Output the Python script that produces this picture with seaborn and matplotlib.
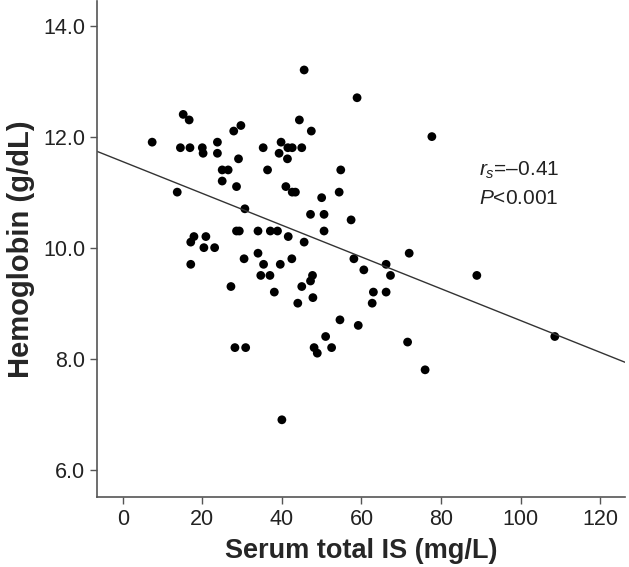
import numpy as np
import pandas as pd
import matplotlib
matplotlib.use("Agg")
import matplotlib.pyplot as plt
import seaborn as sns

# values
serum_is = [7.4, 13.7, 15.2, 16.7, 14.5, 16.9, 20.0, 20.2, 23.8, 23.8,
            25.0, 26.5, 25.0, 27.9, 29.7, 29.1, 28.6, 35.3, 39.8, 39.3,
            41.5, 42.6, 45.0, 41.4, 36.4, 41.0, 42.6, 43.4, 44.4, 47.4,
            45.6, 58.9, 54.8, 54.4, 50.0, 47.2, 50.6, 57.4, 50.6, 30.7,
            28.6, 29.3, 34.0, 37.1, 38.9, 41.6, 45.6, 34.0, 30.5, 35.4,
            39.6, 42.5, 34.7, 37.0, 27.2, 38.1, 47.7, 47.2, 45.0, 47.8,
            44.0, 17.9, 17.1, 20.9, 20.4, 23.1, 17.1, 28.2, 30.9, 48.1,
            48.9, 51.0, 52.5, 54.6, 59.2, 40.0, 58.1, 60.6, 66.2, 67.3,
            63.0, 66.2, 62.7, 72.0, 77.7, 89.0, 108.6, 71.6, 76.0]
hemoglobin = [11.9, 11.0, 12.4, 12.3, 11.8, 11.8, 11.8, 11.7, 11.9, 11.7,
              11.4, 11.4, 11.2, 12.1, 12.2, 11.6, 11.1, 11.8, 11.9, 11.7,
              11.8, 11.8, 11.8, 11.6, 11.4, 11.1, 11.0, 11.0, 12.3, 12.1,
              13.2, 12.7, 11.4, 11.0, 10.9, 10.6, 10.6, 10.5, 10.3, 10.7,
              10.3, 10.3, 10.3, 10.3, 10.3, 10.2, 10.1, 9.9, 9.8, 9.7,
              9.7, 9.8, 9.5, 9.5, 9.3, 9.2, 9.5, 9.4, 9.3, 9.1,
              9.0, 10.2, 10.1, 10.2, 10.0, 10.0, 9.7, 8.2, 8.2, 8.2,
              8.1, 8.4, 8.2, 8.7, 8.6, 6.9, 9.8, 9.6, 9.7, 9.5,
              9.2, 9.2, 9.0, 9.9, 12.0, 9.5, 8.4, 8.3, 7.8]

x_ticks = [0, 20, 40, 60, 80, 100, 120]
y_ticks = [6.0, 8.0, 10.0, 12.0, 14.0]

df = pd.DataFrame({"SerumIS": serum_is, "Hb": hemoglobin})

sns.set_style("ticks")
plt.rcParams["font.family"] = ["Liberation Sans", "DejaVu Sans"]
plt.rcParams["mathtext.fontset"] = "custom"
plt.rcParams["mathtext.rm"] = "Liberation Sans"
plt.rcParams["mathtext.it"] = "Liberation Sans:italic"

fig = plt.figure(figsize=(6.29, 5.67), dpi=100)
ax = fig.add_axes([0.154, 0.1235, 0.840, 0.8755])
ax.set_xlim(-6.5, 126.3)
ax.set_ylim(5.51, 14.45)

sns.regplot(x="SerumIS", y="Hb", data=df, ax=ax, ci=None, truncate=False,
            scatter_kws={"s": 40, "color": "black", "edgecolor": "none", "alpha": 1},
            line_kws={"color": "#333333", "linewidth": 1.0})

ax.set_xlim(-6.5, 126.3)
ax.set_ylim(5.51, 14.45)
ax.set_xticks(x_ticks)
ax.set_yticks(y_ticks)
ax.set_yticklabels([f"{v:.1f}" for v in y_ticks])
ax.tick_params(labelsize=15.5, colors="#222222", length=5, width=1, direction="out")
ax.tick_params(axis="both", color="#555555")
for side in ["left", "bottom"]:
    ax.spines[side].set_color("#555555")
    ax.spines[side].set_linewidth(1.2)
sns.despine(ax=ax)

ax.set_xlabel("Serum total IS (mg/L)", fontsize=19.5, fontweight="bold", labelpad=6)
ax.set_ylabel("Hemoglobin (g/dL)", fontsize=21, fontweight="bold", labelpad=6)

ax.text(0.723, 0.658, r"$r_s$=–0.41", transform=ax.transAxes, fontsize=15,
        va="center", ha="left", color="#222222")
ax.text(0.723, 0.602, r"$P$<0.001", transform=ax.transAxes, fontsize=15,
        va="center", ha="left", color="#222222")

plt.savefig("out.png", dpi=100)
